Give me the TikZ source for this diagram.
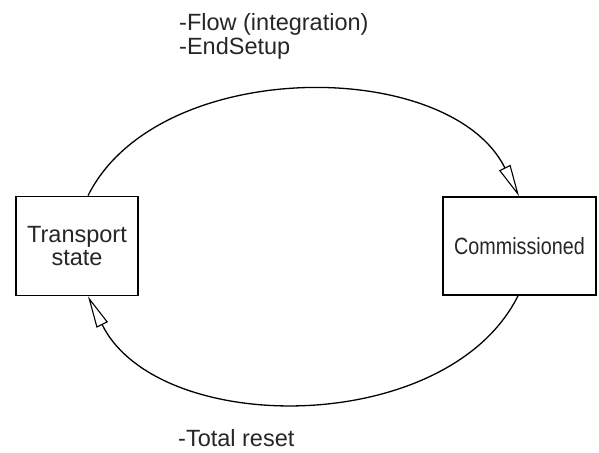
\documentclass[tikz,border=0pt]{standalone}
\usepackage{fontspec}
\setmainfont{Liberation Sans}
\usepackage{tikz}
\usetikzlibrary{positioning,arrows.meta}

\begin{document}
\begin{tikzpicture}[
  x=1pt, y=1pt,
  font=\fontsize{23.5}{22.5}\selectfont,
  stbox/.style={draw, line width=1.6pt, align=center, inner sep=0pt,
              minimum width=#1, minimum height=99pt},
  stbox/.default=122pt,
  lbl/.style={anchor=base west, inner sep=0pt, text=black!85},
  arr/.style={-{Triangle[open, length=32pt, width=12.5pt, line width=1.1pt]}, line width=1.3pt}]
\useasboundingbox (0,0) rectangle (599,452);
\node[stbox, text=black!85] (ts) at (77,206) {Transport\\state};
\node[stbox=153pt, minimum height=98pt, text=black!85] (cm) at (519.5,206) {\scalebox{0.84}[1]{Commissioned}};
\node[lbl] (flow) at (179,421.3) {-Flow (integration)};
\node[lbl] (endset) at (179,397) {-EndSetup};
\node[lbl] (reset) at (178,5.3) {-Total reset};
\draw[arr] ([xshift=11pt]ts.north) to[out=63.5, in=116.5, distance=156pt] ([xshift=-0.5pt]cm.north);
\draw[arr] ([xshift=-1.5pt]cm.south) to[out=-116.5, in=-63.5, distance=158pt] ([xshift=11pt]ts.south);
\end{tikzpicture}
\end{document}
